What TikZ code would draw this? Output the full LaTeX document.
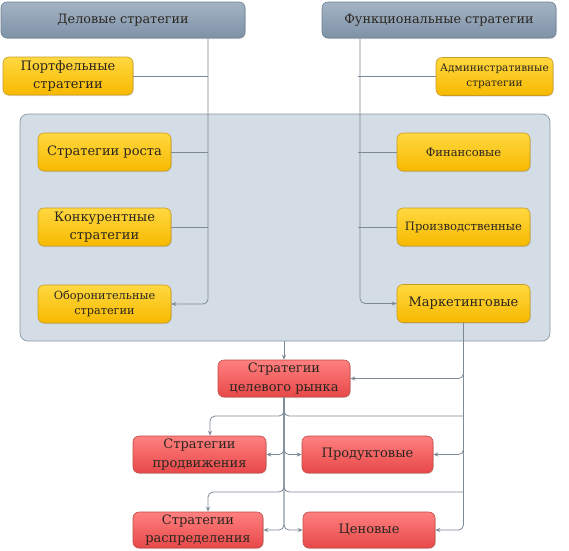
\documentclass[tikz,border=0pt]{standalone}
\usepackage{fontspec}
\setmainfont{DejaVu Serif}
\usepackage{tikz}
\usetikzlibrary{arrows.meta, shadows}
\definecolor{headtop}{HTML}{A3B3C4}
\definecolor{headbot}{HTML}{7E92A7}
\definecolor{headedge}{HTML}{6C7F93}
\definecolor{yeltop}{HTML}{FFD840}
\definecolor{yelbot}{HTML}{F7B900}
\definecolor{yeledge}{HTML}{C89B22}
\definecolor{redtop}{HTML}{FF8080}
\definecolor{redbot}{HTML}{E84848}
\definecolor{rededge}{HTML}{C24A47}
\definecolor{panelfill}{HTML}{D4DDE6}
\definecolor{paneledge}{HTML}{8995A2}
\definecolor{linecol}{HTML}{7D8995}
\definecolor{txtcol}{HTML}{2B2620}
\tikzset{
  box/.style={rounded corners=6pt, line width=0.6pt, inner sep=1pt, align=center,
    text=txtcol, drop shadow={opacity=0.25, shadow xshift=0.8pt, shadow yshift=-1pt}},
  headbox/.style={box, draw=headedge, top color=headtop, bottom color=headbot,
    minimum height=36pt, font=\fontsize{12.8}{16}\selectfont},
  yelbox/.style={box, draw=yeledge, top color=yeltop, bottom color=yelbot,
    minimum width=133pt, minimum height=38pt},
  redbox/.style={box, draw=rededge, top color=redtop, bottom color=redbot,
    minimum height=37pt, font=\fontsize{13}{18.5}\selectfont},
  bigtxt/.style={font=\fontsize{13}{18.5}\selectfont},
  smalltxt/.style={font=\fontsize{10.5}{14.5}\selectfont},
  conn/.style={draw=linecol, line width=0.8pt},
  arr/.style={conn, -{Stealth[length=5pt,width=4pt]}, rounded corners=5pt}
}
\begin{document}
\begin{tikzpicture}[x=1pt, y=-1pt]
  \useasboundingbox (0,0) rectangle (569,550);
  % panel
  \node[draw=paneledge, fill=panelfill, line width=0.7pt, rounded corners=8pt,
    minimum width=530pt, minimum height=227pt, inner sep=0pt] (panel) at (285,227.5) {};
  % headers
  \node[headbox, minimum width=244pt] (bus) at (123,20) {Деловые стратегии};
  \node[headbox, minimum width=234pt] (func) at (439,20) {Функциональные стратегии};
  \coordinate (busx) at (208,0);
  \coordinate (funx) at (360,0);
  % business strategies
  \node[yelbox, bigtxt, minimum width=130pt] (port) at (68,76) {Портфельные\\стратегии};
  \node[yelbox, bigtxt] (growth) at (104.5,152) {Стратегии роста};
  \node[yelbox, bigtxt] (comp) at (104.5,227) {Конкурентные\\стратегии};
  \node[yelbox, font=\fontsize{11.3}{15}\selectfont] (def) at (104.5,304) {Оборонительные\\стратегии};
  % functional strategies
  \node[yelbox, smalltxt, minimum width=117pt] (adm) at (494.5,76.5) {Административные\\стратегии};
  \node[yelbox, font=\fontsize{11.5}{13}\selectfont] (fin) at (463.5,152) {Финансовые};
  \node[yelbox, font=\fontsize{11.6}{13}\selectfont] (prod) at (463.5,227) {Производственные};
  \node[yelbox, bigtxt] (mkt) at (463.5,303.5) {Маркетинговые};
  % marketing strategies
  \node[redbox, minimum width=132pt] (target) at (284,378.5) {Стратегии\\целевого рынка};
  \node[redbox, minimum width=133pt] (promo) at (199.5,454.5) {Стратегии\\продвижения};
  \node[redbox, minimum width=131pt] (product) at (367.5,454.5) {Продуктовые};
  \node[redbox, minimum width=130pt, minimum height=36pt] (distr) at (198,530) {Стратегии\\распределения};
  \node[redbox, minimum width=132pt, minimum height=36pt] (price) at (369,530) {Ценовые};
  \coordinate (forka) at (210,416);
  \coordinate (forkb) at (208,492);
  % connectors
  \draw[arr] (bus.south -| busx) |- (def.east);
  \draw[conn] (port.east) -- (port.east -| busx);
  \draw[conn] (growth.east) -- (growth.east -| busx);
  \draw[conn] (comp.east) -- (comp.east -| busx);
  \draw[arr] (func.south -| funx) |- (mkt.west);
  \draw[conn] (adm.west) -- ([xshift=-2pt]adm.west -| funx);
  \draw[conn] (fin.west) -- ([xshift=-2pt]fin.west -| funx);
  \draw[conn] (prod.west) -- ([xshift=-2pt]prod.west -| funx);
  \draw[arr] (panel.south -| target.north) -- (target.north);
  \draw[arr] (mkt.south) |- (target.east);
  \draw[arr] (mkt.south) |- (product.east);
  \draw[arr] (mkt.south) |- (price.east);
  \draw[arr] (target.south) |- (forka) -- (forka |- promo.north);
  \draw[arr] (target.south) |- (forkb) -- (forkb |- distr.north);
  \draw[conn, rounded corners=5pt] (target.south) |- (forka -| mkt.south);
  \draw[conn, rounded corners=5pt] (target.south) |- (forkb -| mkt.south);
  \draw[arr] (target.south) |- (promo.east);
  \draw[arr] (target.south) |- (product.west);
  \draw[arr] (target.south) |- (distr.east);
  \draw[arr] (target.south) |- (price.west);
\end{tikzpicture}
\end{document}
